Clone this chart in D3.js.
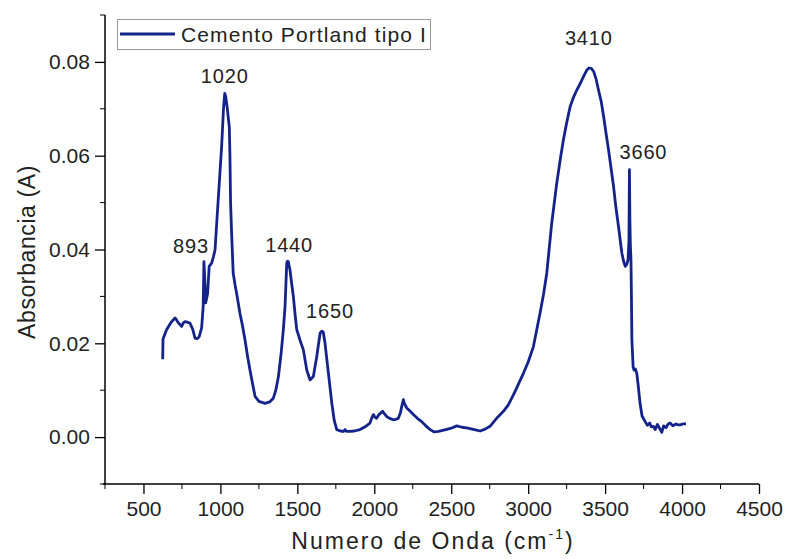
<!DOCTYPE html>
<html><head><meta charset="utf-8">
<script src="https://cdn.jsdelivr.net/npm/d3@7"></script>
<style>body{margin:0;background:#fff}svg{display:block;font-family:"Liberation Sans",Arial,sans-serif}</style>
</head><body>
<svg id="c" width="786" height="559"></svg>
<script>
const wavenumber = [625,627,650,680,705,715,726,737,748,760,770,785,802,820,835,850,862,878,888,893,898,904,910,917,927,943,955,965,987,1008,1020,1028,1035,1045,1058,1062,1066,1072,1083,1095,1105,1127,1145,1160,1175,1192,1210,1225,1250,1290,1320,1344,1360,1377,1395,1409,1420,1431,1436,1442,1446,1452,1462,1474,1485,1496,1517,1539,1550,1561,1582,1604,1626,1648,1660,1668,1680,1690,1702,1724,1740,1756,1780,1799,1810,1820,1842,1870,1907,1940,1972,1985,1994,2005,2015,2030,2054,2065,2080,2100,2123,2140,2156,2170,2178,2189,2195,2211,2230,2254,2280,2308,2335,2363,2390,2417,2465,2500,2536,2570,2608,2650,2688,2720,2752,2800,2839,2870,2904,2930,2969,3000,3034,3077,3100,3121,3153,3186,3210,3229,3250,3273,3295,3316,3340,3360,3380,3395,3410,3425,3440,3457,3475,3490,3505,3522,3540,3555,3570,3587,3600,3609,3620,3631,3640,3649,3655,3658,3661,3664,3668,3671,3674,3682,3688,3697,3706,3715,3727,3740,3760,3775,3790,3800,3814,3825,3840,3855,3868,3880,3895,3910,3923,3940,3960,3975,3988,4005,4026];
const absorbance = [0.0166,0.0209,0.0229,0.0245,0.0254,0.0250,0.0244,0.0240,0.0236,0.0244,0.0246,0.0245,0.0243,0.0230,0.0211,0.0210,0.0214,0.0233,0.0278,0.0374,0.0340,0.0286,0.0295,0.0307,0.0364,0.0371,0.0385,0.0399,0.0513,0.0620,0.0700,0.0733,0.0725,0.0700,0.0660,0.0598,0.0500,0.0442,0.0350,0.0325,0.0307,0.0264,0.0235,0.0207,0.0175,0.0143,0.0112,0.0087,0.0076,0.0072,0.0075,0.0083,0.0100,0.0129,0.0180,0.0229,0.0278,0.0371,0.0375,0.0374,0.0365,0.0357,0.0330,0.0300,0.0262,0.0229,0.0207,0.0186,0.0165,0.0143,0.0122,0.0129,0.0172,0.0222,0.0226,0.0224,0.0200,0.0170,0.0136,0.0072,0.0035,0.0016,0.0013,0.0012,0.0016,0.0012,0.0012,0.0013,0.0016,0.0022,0.0030,0.0042,0.0048,0.0042,0.0040,0.0048,0.0055,0.0050,0.0044,0.0040,0.0037,0.0038,0.0040,0.0052,0.0065,0.0080,0.0072,0.0062,0.0056,0.0048,0.0040,0.0033,0.0024,0.0016,0.0011,0.0012,0.0016,0.0019,0.0024,0.0021,0.0019,0.0016,0.0013,0.0017,0.0023,0.0042,0.0055,0.0068,0.0090,0.0108,0.0136,0.0160,0.0193,0.0264,0.0305,0.0350,0.0456,0.0542,0.0595,0.0634,0.0670,0.0705,0.0725,0.0740,0.0755,0.0769,0.0782,0.0787,0.0786,0.0780,0.0765,0.0740,0.0715,0.0684,0.0650,0.0613,0.0570,0.0534,0.0490,0.0449,0.0415,0.0392,0.0375,0.0364,0.0368,0.0378,0.0420,0.0570,0.0463,0.0410,0.0378,0.0300,0.0207,0.0150,0.0143,0.0145,0.0136,0.0110,0.0072,0.0045,0.0033,0.0025,0.0030,0.0022,0.0023,0.0016,0.0027,0.0018,0.0010,0.0024,0.0020,0.0028,0.0030,0.0024,0.0028,0.0026,0.0026,0.0028,0.0028];
const peakLabels = ["893","1020","1440","1650","3410","3660"];
const peakX = [893,1028,1440,1660,3400,3658];
const peakY = [0.0374,0.0733,0.0375,0.0226,0.0787,0.0570];
const xTickValues = [500,1000,1500,2000,2500,3000,3500,4000,4500];
const yTickValues = [0.00,0.02,0.04,0.06,0.08];
const seriesName = "Cemento Portland tipo I";
const xTitle = "Numero de Onda (cm";
const yTitle = "Absorbancia (A)";

const svg = d3.select("#c");
const L=105, R=759, T=15, B=484;
const x = d3.scaleLinear().domain([250,4500]).range([L,R]);
const y = d3.scaleLinear().domain([-0.01,0.09]).range([B,T]);
const color = "#14238a";

// x axis
const xMinor = d3.range(250,4501,500);
const gx = svg.append("g").attr("transform",`translate(0,${B})`);
gx.call(d3.axisBottom(x).tickValues(xTickValues).tickSize(10).tickSizeOuter(0).tickFormat(d3.format("d")))
  .call(g=>g.selectAll("text").attr("font-size",21).attr("fill","#222").attr("dy","0.9em"));
gx.selectAll(".minor").data(xMinor).join("line").attr("class","minor")
  .attr("x1",d=>x(d)).attr("x2",d=>x(d)).attr("y1",0).attr("y2",5).attr("stroke","#000");
gx.select(".domain").attr("stroke-width",1.5).attr("d",`M${L-2},0H${R}`);
gx.selectAll(".tick line").attr("stroke-width",1.3);

// y axis
const yMinor = [-0.01,0.01,0.03,0.05,0.07,0.09];
const gy = svg.append("g").attr("transform",`translate(${L},0)`);
gy.call(d3.axisLeft(y).tickValues(yTickValues).tickSize(10).tickSizeOuter(0).tickFormat(d3.format(".2f")))
  .call(g=>g.selectAll("text").attr("font-size",21).attr("fill","#222").attr("dx","-0.1em"));
gy.selectAll(".minor").data(yMinor).join("line").attr("class","minor")
  .attr("x1",0).attr("x2",-5).attr("y1",d=>y(d)).attr("y2",d=>y(d)).attr("stroke","#000");
gy.select(".domain").attr("stroke-width",1.5).attr("d",`M0,${T}V${B+1}`);
gy.selectAll(".tick line").attr("stroke-width",1.3);

// line
const line = d3.line().x((d,i)=>x(wavenumber[i])).y(d=>y(d)).curve(d3.curveLinear);
svg.append("path").datum(absorbance).attr("d",line).attr("fill","none")
  .attr("stroke",color).attr("stroke-width",2.8).attr("stroke-linejoin","round");

// peak labels (pixel offsets from each peak)
const labelDx = [-13,0,1,8,-1,14];
const labelDy = [-9,-10,-9,-13,-23,-11];
svg.selectAll(".pk").data(peakLabels).join("text").attr("class","pk")
  .attr("x",(d,i)=>x(peakX[i])+labelDx[i]).attr("y",(d,i)=>y(peakY[i])+labelDy[i])
  .attr("text-anchor","middle").attr("font-size",20).attr("letter-spacing",0.8).attr("fill","#222").text(d=>d);

// legend
const lg = svg.append("g");
lg.append("rect").attr("x",117.5).attr("y",19.5).attr("width",313).attr("height",30)
  .attr("fill","#fff").attr("stroke","#999").attr("stroke-width",1);
lg.append("line").attr("x1",120).attr("x2",175).attr("y1",34).attr("y2",34).attr("stroke",color).attr("stroke-width",2.8);
lg.append("text").attr("x",181).attr("y",41.5).attr("font-size",21).attr("letter-spacing",1.1).attr("fill","#222").text(seriesName);

// titles
const xt = svg.append("text").attr("x",433).attr("y",549).attr("text-anchor","middle").attr("font-size",23).attr("letter-spacing",2).attr("fill","#222");
xt.append("tspan").text(xTitle);
xt.append("tspan").attr("font-size",14).attr("dy",-10).text("-1");
xt.append("tspan").attr("dy",10).text(")");
svg.append("text").attr("transform","translate(35,252) rotate(-90)").attr("text-anchor","middle")
  .attr("font-size",23).attr("letter-spacing",0.6).attr("fill","#222").text(yTitle);
</script>
</body></html>
